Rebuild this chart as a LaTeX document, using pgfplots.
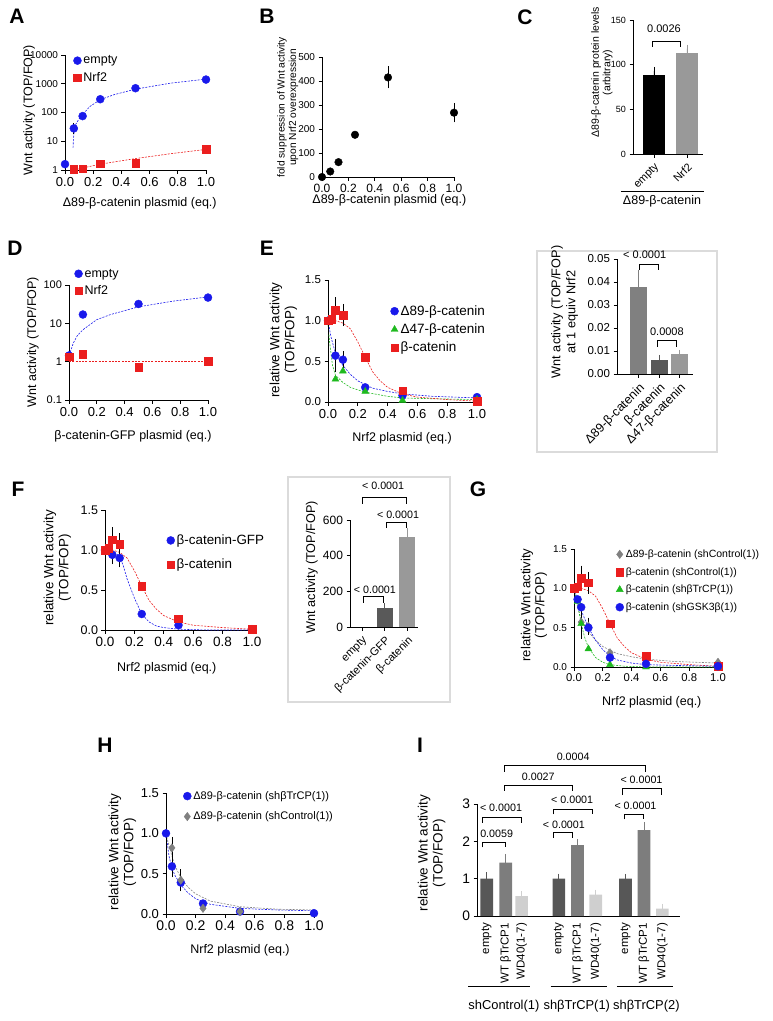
\documentclass[border=0pt]{standalone}
\usepackage{fontspec}
\setmainfont{Liberation Sans}
\usepackage{pgfplots}
\pgfplotsset{compat=1.18}
\newcommand\fs[2]{\fontsize{#1}{#2}\selectfont}

\definecolor{pblue}{RGB}{25,25,235}
\definecolor{pred}{RGB}{235,30,30}
\definecolor{pgreen}{RGB}{30,185,30}
\definecolor{pgray}{RGB}{128,128,128}

\pgfplotsset{
  prism/.style={scale only axis, axis x line*=bottom, axis y line*=left, tick pos=left,
    axis line style={line width=0.9pt}, tick align=outside, major tick length=3.5pt,
    tick style={black, line width=0.9pt}, clip=false,
    /pgf/number format/assume math mode=true, /pgf/number format/1000 sep={},
    xticklabel style={font=\fs{12.5}{14}}, yticklabel style={font=\fs{11.5}{13}},
    label style={font=\fs{12.5}{14.5}, align=center},
    xlabel style={anchor=center}, ylabel style={anchor=center},
    legend style={draw=none, fill=none, inner sep=0pt, outer sep=0pt,
      font=\fs{12.5}{14}, anchor=north west, row sep=3pt},
    legend cell align=left},
  fx/.style={xmin=0, xmax=1, xtick={0,0.2,0.4,0.6,0.8,1.0},
    xticklabel style={/pgf/number format/fixed, /pgf/number format/fixed zerofill, /pgf/number format/precision=1}},
  fy/.style={ymin=0, ymax=1.5, ytick={0,0.5,1,1.5},
    yticklabel style={/pgf/number format/fixed, /pgf/number format/fixed zerofill, /pgf/number format/precision=1}},
  fit/.style={dash pattern=on 2pt off 1.3pt, line width=0.6pt, forget plot, no marks},
  lm/.style={legend image code/.code={\draw[mark repeat=2,mark phase=2,##1] plot coordinates {(0pt,0pt) (5pt,0pt) (10pt,0pt)};}},
  bluec/.style={only marks, mark=*, mark size=4pt, color=pblue, lm},
  redsq/.style={only marks, mark=square*, mark size=3.8pt, color=pred, lm},
  greent/.style={only marks, mark=triangle*, mark size=4pt, color=pgreen, lm},
  grayd/.style={only marks, mark=diamond*, mark size=4.2pt, color=pgray, lm},
  eb/.style={draw=none, mark=none, forget plot,
    error bars/y dir=both, error bars/y explicit,
    error bars/error bar style={draw=black, line width=0.7pt},
    error bars/error mark options={draw=black, mark size=3pt, line width=0.7pt}},
  bar/.style={ybar, bar shift=0pt, fill=#1, draw=none,
    error bars/y dir=plus, error bars/y explicit,
    error bars/error bar style={draw=#1, line width=0.8pt},
    error bars/error mark options={draw=#1, mark size=4pt, line width=0.8pt}},
}
\tikzset{brk/.style={line width=0.6pt}, pv/.style={font=\fs{10.7}{12}},
  letter/.style={font=\bfseries\fs{21}{21}},
  insetframe/.style={draw=black!14, line width=1.6pt}}

\begin{document}
\begin{tikzpicture}
\path[use as bounding box] (0pt,0pt) rectangle (773pt,-1021pt);
\draw[insetframe] (537pt,-251pt) rectangle (717pt,-452pt);
\draw[insetframe] (288pt,-477pt) rectangle (450pt,-702pt);
\node[letter] at (17pt,-16pt) {A};
\node[letter] at (267pt,-16pt) {B};
\node[letter] at (525pt,-17pt) {C};
\node[letter] at (15pt,-248pt) {D};
\node[letter] at (267pt,-248pt) {E};
\node[letter] at (18pt,-489pt) {F};
\node[letter] at (478pt,-489pt) {G};
\node[letter] at (105pt,-745pt) {H};
\node[letter] at (420pt,-745pt) {I};

% ---------- A
\begin{axis}[prism, at={(65pt,-170pt)}, anchor=south west, width=141pt, height=115pt,
  ymode=log, ymin=1, ymax=10000, ytick={1,10,100,1000,10000}, log ticks with fixed point,
  yminorticks=false, fx, yticklabel style={font=\fs{10}{12}}, xticklabel style={font=\fs{13}{14}},
  xlabel={Δ89-β-catenin plasmid (eq.)}, ylabel={Wnt activity (TOP/FOP)},
  xlabel style={at={(axis description cs:0.53,-0.287)}},
  ylabel style={at={(axis description cs:-0.255,0.52)}},
  legend style={at={(0.06,1.01)}}]
\addplot[fit, pblue] coordinates {(0.057,6) (0.06,12) (0.065,22) (0.075,38) (0.1,60) (0.125,85) (0.175,160) (0.25,280) (0.35,420) (0.5,650) (0.75,1050) (1.0,1450)};
\addplot[fit, pred] coordinates {(0.06,1.0) (0.25,1.6) (0.5,2.5) (0.75,3.7) (1.0,5.2)};
\addplot[bluec] coordinates {(0,1.6) (0.0625,28) (0.125,75) (0.25,290) (0.5,700) (1,1400)};
\addlegendentry{empty}
\addplot[redsq] coordinates {(0.0625,1.05) (0.125,1.12) (0.25,1.65) (0.5,1.75) (1,5.2)};
\addlegendentry{Nrf2}
\addplot[eb] coordinates {(0.0625,28) +- (0,6)};
\end{axis}

% ---------- B
\begin{axis}[prism, at={(322pt,-177pt)}, anchor=south west, width=132pt, height=120pt,
  ymin=0, ymax=500, ytick={0,100,200,300,400,500}, fx,
  yticklabel style={font=\fs{10}{12}}, xticklabel style={font=\fs{12}{14}},
  xlabel={Δ89-β-catenin plasmid (eq.)},
  ylabel={fold suppression of Wnt activity\\upon Nrf2 overexpression},
  xlabel style={at={(axis description cs:0.51,-0.19)}},
  ylabel style={at={(axis description cs:-0.26,0.58)}, font=\fs{10.2}{11.5}}]
\addplot[only marks, mark=*, mark size=3.8pt, black] coordinates {(0,0) (0.0625,23) (0.125,62) (0.25,176) (0.5,415) (1,268)};
\addplot[eb] coordinates {(0.5,415) +- (0,33) (1,268) +- (0,28)};
\end{axis}

% ---------- C
\begin{axis}[prism, at={(633pt,-154pt)}, anchor=south west, width=70pt, height=134pt,
  ymin=0, ymax=150, ytick={0,50,100,150}, xmin=0.364, xmax=2.485, xtick={1,2},
  xticklabels={empty,Nrf2}, xticklabel style={rotate=45, anchor=north east, font=\fs{11}{12}},
  yticklabel style={font=\fs{9}{10}},
  ylabel={Δ89-β-catenin protein levels\\(arbitrary)},
  ylabel style={at={(axis description cs:-0.443,0.61)}, font=\fs{10.5}{11.5}}]
\addplot[bar width=22pt, bar=black] coordinates {(1,88) +- (0,5)};
\addplot[bar width=22pt, bar=black!40] coordinates {(2,113) +- (0,5)};
\draw[brk] (axis cs:0.94,120) |- (axis cs:1.79,125.7) -- (axis cs:1.79,120);
\node[font=\fs{11}{12}] at (axis cs:1.303,140) {0.0026};
\draw[line width=0.8pt] (axis cs:0,-41.4) -- (axis cs:2.515,-41.4);
\node[font=\fs{12.5}{14}] at (axis cs:1.243,-53) {Δ89-β-catenin};
\end{axis}

% ---------- D
\begin{axis}[prism, at={(69pt,-400pt)}, anchor=south west, width=139pt, height=115pt,
  ymode=log, ymin=0.1, ymax=100, ytick={0.1,1,10,100}, log ticks with fixed point,
  yminorticks=false, fx, yticklabel style={font=\fs{11}{12}}, xticklabel style={font=\fs{13}{14}},
  xlabel={β-catenin-GFP plasmid (eq.)}, ylabel={Wnt activity (TOP/FOP)},
  xlabel style={at={(axis description cs:0.46,-0.313)}},
  ylabel style={at={(axis description cs:-0.259,0.504)}},
  legend style={at={(0.04,1.157)}}]
\addplot[fit, pblue] coordinates {(0,1.2) (0.01,1.8) (0.03,3) (0.06,4.8) (0.1,6.8) (0.2,12.5) (0.3,17) (0.5,27) (0.75,38) (1.0,49)};
\addplot[fit, draw=pred] coordinates {(0,1.0) (1.0,1.0)};
\addplot[bluec] coordinates {(0,1.45) (0.1,17) (0.5,32) (1,47)};
\addlegendentry{empty}
\addplot[redsq] coordinates {(0,1.35) (0.1,1.55) (0.5,0.73) (1,1.03)};
\addlegendentry{Nrf2}
\end{axis}

% ---------- E
\begin{axis}[prism, at={(328pt,-402pt)}, anchor=south west, width=149pt, height=122pt,
  fx, fy, xticklabel style={font=\fs{13}{14}},
  xlabel={Nrf2 plasmid (eq.)}, ylabel={relative Wnt activity\\(TOP/FOP)},
  xlabel style={at={(axis description cs:0.497,-0.295)}},
  ylabel style={at={(axis description cs:-0.299,0.508)}, font=\fs{13.4}{15}},
  legend style={at={(0.42,0.807)}, font=\fs{13.5}{15}}]
\addplot[fit, pblue] coordinates {(0,1.0) (0.02,0.8) (0.05,0.6) (0.1,0.45) (0.15,0.34) (0.2,0.26) (0.3,0.17) (0.4,0.13) (0.5,0.1) (0.7,0.07) (1.0,0.05)};
\addplot[fit, pgreen] coordinates {(0,0.95) (0.01,0.75) (0.03,0.45) (0.05,0.33) (0.1,0.24) (0.15,0.18) (0.25,0.12) (0.4,0.07) (0.5,0.05) (0.7,0.04) (1.0,0.03)};
\addplot[fit, pred] coordinates {(0,1.0) (0.05,1.0) (0.1,0.97) (0.15,0.9) (0.2,0.74) (0.25,0.55) (0.3,0.37) (0.35,0.26) (0.4,0.18) (0.5,0.1) (0.6,0.06) (0.8,0.03) (1.0,0.01)};
\addplot[bluec] coordinates {(0,1.0) (0.05,0.57) (0.1,0.52) (0.25,0.18) (0.5,0.08) (1,0.06)};
\addlegendentry{Δ89-β-catenin}
\addplot[greent] coordinates {(0,1.0) (0.05,0.28) (0.1,0.38) (0.25,0.13) (0.5,0.02) (1,0.03)};
\addlegendentry{Δ47-β-catenin}
\addplot[redsq] coordinates {(0,1.0) (0.025,1.02) (0.05,1.13) (0.1,1.07) (0.25,0.55) (0.5,0.14) (1,0.01)};
\addlegendentry{β-catenin}
\addplot[eb] coordinates {(0,1.0) +- (0,0.13) (0.05,0.57) +- (0,0.17) (0.1,0.52) +- (0,0.07) (0.05,1.13) +- (0,0.12) (0.1,1.07) +- (0,0.1)};
\end{axis}

% ---------- E inset
\begin{axis}[prism, at={(617pt,-374pt)}, anchor=south west, width=76pt, height=115pt,
  ymin=0, ymax=0.05, ytick={0,0.01,0.02,0.03,0.04,0.05}, scaled y ticks=false,
  yticklabel style={/pgf/number format/fixed, /pgf/number format/fixed zerofill, /pgf/number format/precision=2},
  xmin=-0.05, xmax=3.65, xtick={1,2,3},
  xticklabels={Δ89-β-catenin,β-catenin,Δ47-β-catenin},
  xticklabel style={rotate=45, anchor=north east, font=\fs{12.5}{14}},
  ylabel={Wnt activity (TOP/FOP)\\at 1 equiv Nrf2},
  ylabel style={at={(axis description cs:-0.69,0.54)}, font=\fs{12.7}{15}}]
\addplot[bar width=17pt, bar=black!50] coordinates {(1,0.038) +- (0,0.0055)};
\addplot[bar width=17pt, bar=black!65] coordinates {(2,0.0063) +- (0,0.0003)};
\addplot[bar width=17pt, bar=black!40] coordinates {(3,0.0085) +- (0,0.0003)};
\draw[brk] (axis cs:1.02,0.0452) |- (axis cs:1.95,0.0478) -- (axis cs:1.95,0.0452);
\node[pv, font=\fs{11}{12}] at (axis cs:1.3,0.0518) {< 0.0001};
\draw[brk] (axis cs:1.9,0.0119) |- (axis cs:2.82,0.0145) -- (axis cs:2.82,0.0119);
\node[pv, font=\fs{11}{12}] at (axis cs:2.38,0.0184) {0.0008};
\end{axis}

% ---------- F
\begin{axis}[prism, at={(105pt,-630pt)}, anchor=south west, width=147pt, height=120pt,
  fx, fy, xticklabel style={font=\fs{13.5}{14}}, yticklabel style={font=\fs{12.5}{14}},
  xlabel={Nrf2 plasmid (eq.)}, ylabel={relative Wnt activity\\(TOP/FOP)},
  xlabel style={at={(axis description cs:0.42,-0.317)}},
  ylabel style={at={(axis description cs:-0.323,0.517)}, font=\fs{13.4}{15}},
  legend style={at={(0.42,0.81)}, font=\fs{13.4}{15}, row sep=9pt}]
\addplot[fit, pblue] coordinates {(0,1.0) (0.05,0.99) (0.1,0.92) (0.125,0.8) (0.15,0.64) (0.2,0.4) (0.25,0.2) (0.3,0.1) (0.35,0.05) (0.4,0.03) (0.5,0.01) (0.7,0.0) (1.0,0.0)};
\addplot[fit, pred] coordinates {(0,1.0) (0.05,1.0) (0.1,0.97) (0.15,0.9) (0.2,0.74) (0.25,0.55) (0.3,0.37) (0.35,0.26) (0.4,0.18) (0.5,0.1) (0.6,0.06) (0.8,0.03) (1.0,0.01)};
\addplot[bluec] coordinates {(0,1.0) (0.05,0.94) (0.1,0.9) (0.25,0.2) (0.5,0.06) (1,0.01)};
\addlegendentry{β-catenin-GFP}
\addplot[redsq] coordinates {(0,1.0) (0.025,1.02) (0.05,1.13) (0.1,1.07) (0.25,0.55) (0.5,0.14) (1,0.01)};
\addlegendentry{β-catenin}
\addplot[eb] coordinates {(0,1.0) +- (0,0.12) (0.05,0.94) +- (0,0.08) (0.1,0.9) +- (0,0.08) (0.05,1.13) +- (0,0.12) (0.1,1.07) +- (0,0.1)};
\end{axis}

% ---------- F inset
\begin{axis}[prism, at={(350pt,-627pt)}, anchor=south west, width=68pt, height=107pt,
  ymin=0, ymax=600, ytick={0,200,400,600}, yticklabel style={font=\fs{12}{13}},
  xmin=0.47, xmax=3.47, xtick={1,2,3}, xticklabels={empty,β-catenin-GFP,β-catenin},
  xticklabel style={rotate=45, anchor=north east, font=\fs{11.2}{12}},
  ylabel={Wnt activity (TOP/FOP)},
  ylabel style={at={(axis description cs:-0.56,0.56)}, font=\fs{12.7}{14}}]
\addplot[bar width=16pt, bar=black!65] coordinates {(2,105) +- (0,5)};
\addplot[bar width=16pt, bar=black!40] coordinates {(3,505) +- (0,25)};
\draw[brk] (axis cs:1.04,136) |- (axis cs:1.93,170) -- (axis cs:1.93,136);
\node[pv] at (axis cs:1.57,207) {< 0.0001};
\draw[brk] (axis cs:2.09,555) |- (axis cs:2.97,585) -- (axis cs:2.97,555);
\node[pv] at (axis cs:2.59,628) {< 0.0001};
\draw[brk] (axis cs:1.03,690) |- (axis cs:2.94,729) -- (axis cs:2.94,690);
\node[pv] at (axis cs:1.93,791) {< 0.0001};
\end{axis}

% ---------- G
\begin{axis}[prism, at={(574pt,-667pt)}, anchor=south west, width=144pt, height=118pt,
  fx, fy, xticklabel style={font=\fs{11.3}{13}}, yticklabel style={font=\fs{10}{12}},
  xlabel={Nrf2 plasmid (eq.)}, ylabel={relative Wnt activity\\(TOP/FOP)},
  xlabel style={at={(axis description cs:0.54,-0.297)}},
  ylabel style={at={(axis description cs:-0.278,0.525)}, font=\fs{13.1}{14}},
  legend style={at={(0.29,1.01)}, font=\fs{10.5}{12}, row sep=4.5pt}]
\addplot[fit, pgray] coordinates {(0,1.0) (0.02,0.8) (0.05,0.6) (0.1,0.45) (0.15,0.34) (0.2,0.26) (0.3,0.17) (0.4,0.13) (0.5,0.1) (0.7,0.07) (1.0,0.05)};
\addplot[fit, pred] coordinates {(0,1.0) (0.05,1.0) (0.1,0.97) (0.15,0.9) (0.2,0.74) (0.25,0.55) (0.3,0.37) (0.35,0.26) (0.4,0.18) (0.5,0.1) (0.6,0.06) (0.8,0.03) (1.0,0.01)};
\addplot[fit, pgreen] coordinates {(0,1.0) (0.025,0.8) (0.05,0.55) (0.075,0.37) (0.1,0.25) (0.15,0.12) (0.2,0.06) (0.25,0.03) (0.35,0.01) (0.5,0.0) (1.0,0.0)};
\addplot[fit, pblue] coordinates {(0,1.0) (0.025,0.85) (0.05,0.72) (0.1,0.5) (0.15,0.34) (0.2,0.22) (0.25,0.14) (0.3,0.09) (0.4,0.05) (0.5,0.03) (0.7,0.02) (1.0,0.01)};
\addplot[grayd] coordinates {(0,1.0) (0.05,0.57) (0.1,0.52) (0.25,0.18) (0.5,0.08) (1,0.06)};
\addlegendentry{Δ89-β-catenin (shControl(1))}
\addplot[redsq] coordinates {(0,1.0) (0.025,1.02) (0.05,1.13) (0.1,1.07) (0.25,0.55) (0.5,0.14) (1,0.01)};
\addlegendentry{β-catenin (shControl(1))}
\addplot[greent] coordinates {(0.025,0.83) (0.05,0.55) (0.1,0.23) (0.25,0.03) (0.5,0.0) (1,0.0)};
\addlegendentry{β-catenin (shβTrCP(1))}
\addplot[bluec] coordinates {(0.025,0.86) (0.05,0.76) (0.1,0.5) (0.25,0.12) (0.5,0.04) (1,0.01)};
\addlegendentry{β-catenin (shGSK3β(1))}
\addplot[eb] coordinates {(0,1.0) +- (0,0.1) (0.05,0.57) +- (0,0.17) (0.1,0.52) +- (0,0.07) (0.05,1.13) +- (0,0.12) (0.1,1.07) +- (0,0.1)};
\end{axis}

% ---------- H
\begin{axis}[prism, at={(166pt,-914pt)}, anchor=south west, width=148pt, height=121pt,
  fx, fy, xticklabel style={font=\fs{14}{15}}, yticklabel style={font=\fs{13}{14}},
  xlabel={Nrf2 plasmid (eq.)}, ylabel={relative Wnt activity\\(TOP/FOP)},
  xlabel style={at={(axis description cs:0.5,-0.298)}},
  ylabel style={at={(axis description cs:-0.294,0.512)}, font=\fs{13.5}{15}},
  legend style={at={(0.117,1.03)}, font=\fs{11}{12.5}, row sep=7pt}]
\addplot[fit, pblue] coordinates {(0,1.0) (0.02,0.72) (0.04,0.57) (0.06,0.48) (0.1,0.36) (0.15,0.26) (0.2,0.19) (0.3,0.12) (0.5,0.07) (0.75,0.05) (1.0,0.04)};
\addplot[fit, pgray] coordinates {(0,1.0) (0.02,0.85) (0.04,0.72) (0.06,0.6) (0.1,0.45) (0.15,0.33) (0.2,0.25) (0.3,0.16) (0.5,0.09) (0.75,0.06) (1.0,0.05)};
\addplot[bluec] coordinates {(0,1.0) (0.04,0.59) (0.1,0.39) (0.25,0.13) (0.5,0.03) (1,0.01)};
\addlegendentry{Δ89-β-catenin (shβTrCP(1))}
\addplot[grayd] coordinates {(0.04,0.82) (0.1,0.42) (0.25,0.07) (0.5,0.03)};
\addlegendentry{Δ89-β-catenin (shControl(1))}
\addplot[eb] coordinates {(0,1.0) +- (0,0.19) (0.04,0.59) +- (0,0.1) (0.1,0.39) +- (0,0.07) (0.04,0.82) +- (0,0.1) (0.1,0.42) +- (0,0.1)};
\end{axis}

% ---------- I
\begin{axis}[prism, at={(477pt,-916pt)}, anchor=south west, width=203pt, height=112pt,
  ymin=0, ymax=3, ytick={0,1,2,3}, yticklabel style={font=\fs{13.8}{15}},
  xmin=0, xmax=11.17, xtick={0.533,1.577,2.456,4.505,5.533,6.538,8.17,9.19,10.2},
  xticklabels={empty,WT βTrCP1,WD40(1-7),empty,WT βTrCP1,WD40(1-7),empty,WT βTrCP1,WD40(1-7)},
  xtick style={draw=none}, xticklabel style={rotate=90, anchor=east, font=\fs{11.5}{12}},
  ylabel={relative Wnt activity\\(TOP/FOP)},
  ylabel style={at={(axis description cs:-0.224,0.5625)}, font=\fs{13.5}{15}}]
\addplot[bar width=12.7pt, bar=black!66] coordinates {(0.533,1.0) +- (0,0.06) (4.505,1.0) +- (0,0.03) (8.17,1.0) +- (0,0.02)};
\addplot[bar width=12.7pt, bar=black!51] coordinates {(1.577,1.43) +- (0,0.13) (5.533,1.9) +- (0,0.05) (9.19,2.3) +- (0,0.1)};
\addplot[bar width=12.7pt, bar=black!19] coordinates {(2.456,0.53) +- (0,0.03) (6.538,0.57) +- (0,0.03) (10.2,0.2) +- (0,0.02)};
\draw[brk] (axis cs:0.313,1.84) |- (axis cs:1.538,1.963) -- (axis cs:1.538,1.84);
\node[pv] at (axis cs:1.08,2.197) {0.0059};
\draw[brk] (axis cs:0.313,2.5) |- (axis cs:2.456,2.644) -- (axis cs:2.456,2.5);
\node[pv] at (axis cs:1.32,2.885) {< 0.0001};
\draw[brk] (axis cs:4.19,2.097) |- (axis cs:5.24,2.23) -- (axis cs:5.24,2.097);
\node[pv] at (axis cs:4.78,2.44) {< 0.0001};
\draw[brk] (axis cs:4.19,2.724) |- (axis cs:6.335,2.866) -- (axis cs:6.335,2.724);
\node[pv] at (axis cs:5.236,3.107) {< 0.0001};
\draw[brk] (axis cs:8.09,2.59) |- (axis cs:9.176,2.73) -- (axis cs:9.176,2.59);
\node[pv] at (axis cs:8.72,2.94) {< 0.0001};
\draw[brk] (axis cs:8.0,3.24) |- (axis cs:10.15,3.42) -- (axis cs:10.15,3.24);
\node[pv] at (axis cs:9.05,3.66) {< 0.0001};
\draw[brk] (axis cs:1.48,3.35) |- (axis cs:5.24,3.51) -- (axis cs:5.24,3.35);
\node[pv] at (axis cs:3.37,3.716) {0.0027};
\draw[brk] (axis cs:1.48,3.865) |- (axis cs:9.27,4.045) -- (axis cs:9.27,3.865);
\node[pv] at (axis cs:5.29,4.267) {0.0004};
\draw[line width=0.8pt] (axis cs:-0.49,-1.894) -- (axis cs:2.91,-1.894);
\draw[line width=0.8pt] (axis cs:4.05,-1.894) -- (axis cs:7.13,-1.894);
\draw[line width=0.8pt] (axis cs:7.69,-1.894) -- (axis cs:10.77,-1.894);
\node[font=\fs{12.9}{14}] at (axis cs:1.48,-2.41) {shControl(1)};
\node[font=\fs{12.9}{14}] at (axis cs:5.49,-2.41) {shβTrCP(1)};
\node[font=\fs{12.9}{14}] at (axis cs:9.32,-2.41) {shβTrCP(2)};
\end{axis}
\end{tikzpicture}
\end{document}
